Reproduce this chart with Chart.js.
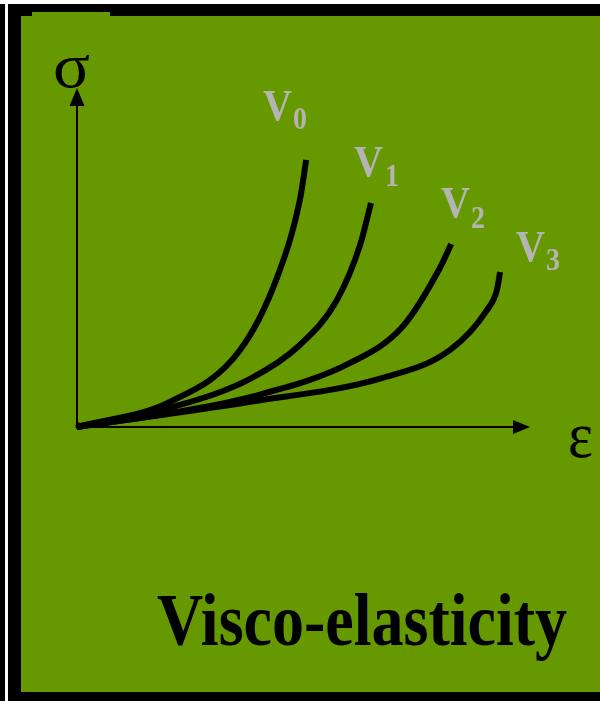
<!DOCTYPE html>
<html>
<head>
<meta charset="utf-8">
<script src="https://cdn.jsdelivr.net/npm/chart.js@4/dist/chart.umd.min.js"></script>
<style>
  html, body { margin: 0; padding: 0; background: #fff; }
  #c { display: block; }
</style>
</head>
<body>
<canvas id="c" width="600" height="701"></canvas>
<script>
// curve names (velocities) and strain / stress values
var curveNames = ['0', '1', '2', '3'];

var strainV0 = [0, 20.5, 36.0, 44.2, 49.2, 50.6];
var stressV0 = [0, 7.4, 22.7, 44.2, 67.0, 78.8];

var strainV1 = [0, 22.7, 38.2, 49.2, 57.4, 62.5, 64.9];
var stressV1 = [0, 6.5, 14.2, 24.2, 37.5, 53.7, 66.1];

var strainV2 = [0, 20.5, 38.2, 60.3, 72.0, 80.1, 82.6];
var stressV2 = [0, 4.1, 8.8, 18.9, 29.8, 46.9, 54.0];

var strainV3 = [0, 38.2, 67.5, 82.3, 90.5, 92.7, 93.4];
var stressV3 = [0, 7.4, 14.5, 22.7, 34.5, 40.4, 45.7];

var strains = [strainV0, strainV1, strainV2, strainV3];
var stresses = [stressV0, stressV1, stressV2, stressV3];

var green = '#669900';
var grey = '#b4b4b4';

function pts(xs, ys) {
    return xs.map(function (x, i) { return { x: x, y: ys[i] }; });
}

// draws text squeezed to a given width
function fitText(ctx, text, font, left, base, width, color) {
    ctx.save();
    ctx.font = font;
    ctx.fillStyle = color;
    ctx.textAlign = 'left';
    ctx.textBaseline = 'alphabetic';
    var w = ctx.measureText(text).width;
    ctx.translate(left, base);
    ctx.scale(width / w, 1);
    ctx.fillText(text, 0, 0);
    ctx.restore();
}

var framePlugin = {
    id: 'frame',
    beforeDraw: function (chart) {
        var ctx = chart.ctx;
        ctx.save();
        ctx.fillStyle = '#ffffff';
        ctx.fillRect(0, 0, 600, 701);
        ctx.fillStyle = '#000000';
        ctx.fillRect(0, 4, 5, 697);
        ctx.fillRect(8, 4, 592, 697);
        ctx.fillStyle = green;
        ctx.fillRect(21, 16, 579, 676);
        ctx.fillRect(32, 12, 78, 4);
        ctx.restore();
    },
    afterDraw: function (chart) {
        var ctx = chart.ctx;
        var xs = chart.scales.x, ys = chart.scales.y;
        var x0 = xs.getPixelForValue(0), y0 = ys.getPixelForValue(0);
        var xEnd = xs.getPixelForValue(xs.max), yEnd = ys.getPixelForValue(ys.max);
        ctx.save();
        ctx.strokeStyle = '#000';
        ctx.fillStyle = '#000';
        ctx.lineWidth = 2;
        ctx.beginPath();
        ctx.moveTo(x0, y0);
        ctx.lineTo(x0, yEnd + 10);
        ctx.moveTo(x0, y0);
        ctx.lineTo(xEnd - 10, y0);
        ctx.stroke();
        ctx.beginPath();
        ctx.moveTo(x0, yEnd);
        ctx.lineTo(x0 - 7.5, yEnd + 18);
        ctx.lineTo(x0 + 7.5, yEnd + 18);
        ctx.closePath();
        ctx.fill();
        ctx.beginPath();
        ctx.moveTo(xEnd, y0);
        ctx.lineTo(xEnd - 17, y0 - 7);
        ctx.lineTo(xEnd - 17, y0 + 7);
        ctx.closePath();
        ctx.fill();
        ctx.beginPath();
        ctx.arc(x0 + 2, y0 - 1, 3.5, 0, Math.PI * 2);
        ctx.fill();
        ctx.restore();

        fitText(ctx, 'σ', '64px "Liberation Serif"', 53, 87, 37, '#000');
        fitText(ctx, 'ε', '66px "Liberation Serif"', 568, 457, 25, '#000');

        var vPos = [[263, 120, 293, 129], [354, 176, 385, 186], [441, 217, 471, 228], [516, 261, 546, 270]];
        curveNames.forEach(function (n, i) {
            var p = vPos[i];
            fitText(ctx, 'V', 'bold 45px "Liberation Serif"', p[0], p[1], 29, grey);
            fitText(ctx, n, 'bold 31px "Liberation Serif"', p[2], p[3], 14, grey);
        });

        fitText(ctx, 'Visco-elasticity', 'bold 75px "Liberation Serif"', 157, 645, 410, '#000');
    }
};

var ctx = document.getElementById('c');

var chart = new Chart(ctx, {
    type: 'line',
    data: {
        datasets: curveNames.map(function (n, i) {
            return {
                label: 'V' + n,
                data: pts(strains[i], stresses[i]),
                borderColor: '#000',
                borderWidth: 6,
                pointRadius: 0,
                cubicInterpolationMode: 'monotone',
                fill: false,
                clip: false
            };
        })
    },
    options: {
        responsive: false,
        animation: false,
        devicePixelRatio: 1,
        layout: { padding: { left: 77, top: 88, right: 70, bottom: 274 } },
        plugins: { legend: { display: false }, tooltip: { enabled: false } },
        scales: {
            x: { type: 'linear', min: 0, max: 100, display: false },
            y: { type: 'linear', min: 0, max: 100, display: false }
        }
    },
    plugins: [framePlugin]
});
</script>
</body>
</html>
